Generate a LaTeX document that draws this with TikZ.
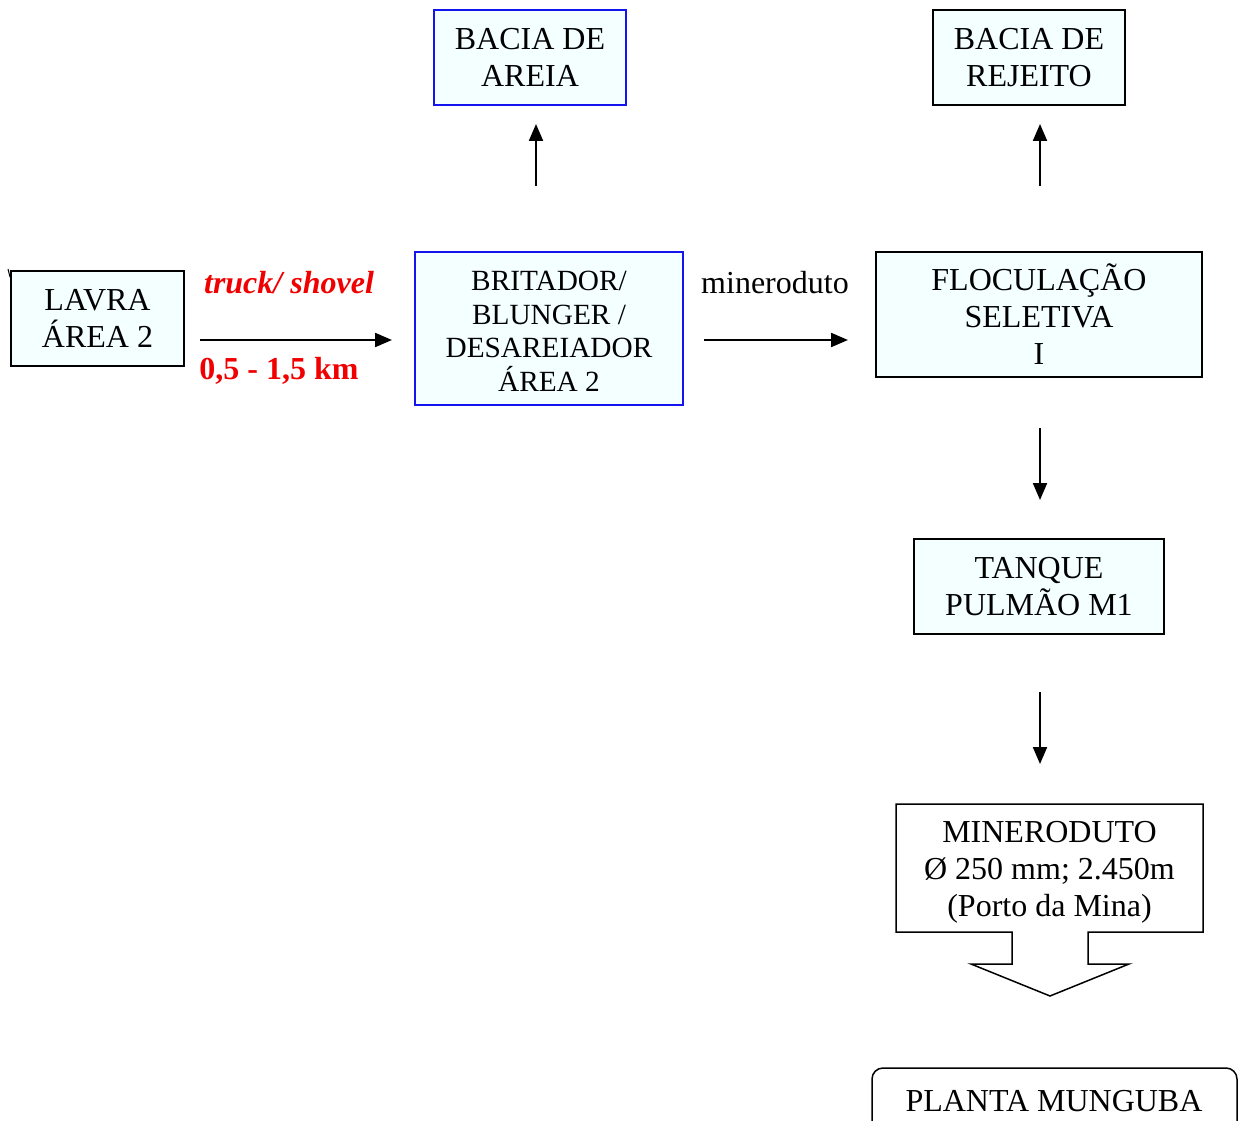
\documentclass[tikz,border=0pt]{standalone}
\usepackage{fontspec}
\setmainfont{Liberation Serif}
\usetikzlibrary{arrows.meta}
\definecolor{boxfill}{RGB}{244,255,255}
\definecolor{boxblue}{RGB}{20,20,240}
\definecolor{labred}{RGB}{240,0,0}
\begin{document}
\begin{tikzpicture}[x=1pt,y=-1pt,
  proc/.style={draw=black,line width=1.5pt,fill=boxfill,align=center,inner sep=0pt,
    font=\fontsize{32}{37}\selectfont},
  procblue/.style={proc,draw=boxblue},
  flow/.style={line width=2.2pt,-{Triangle[length=17pt,width=14pt]}},
  txt/.style={font=\fontsize{32}{37}\selectfont,inner sep=0pt}]
\useasboundingbox (0,0) rectangle (1240,1121);

% process boxes
\node[proc,minimum width=173pt,minimum height=95pt] (lavra) at (97.5,318.5) {LAVRA\\ÁREA 2};
\node[procblue,minimum width=192pt,minimum height=95pt] (areia) at (530,57.5) {BACIA DE\\AREIA};
\node[proc,minimum width=192pt,minimum height=95pt] (rejeito) at (1029,57.5) {BACIA DE\\REJEITO};
\node[procblue,minimum width=268pt,minimum height=153pt] (brit) at (549,328.5) {};
\node[txt,align=center,font=\fontsize{29.3}{33.5}\selectfont] (brittext) at (549,331.5)
  {BRITADOR/\\BLUNGER /\\DESAREIADOR\\ÁREA 2};
\node[proc,minimum width=326pt,minimum height=125pt] (floc) at (1039,314.5)
  {FLOCULAÇÃO\\SELETIVA\\I};
\node[proc,minimum width=250pt,minimum height=95pt] (tanque) at (1039,586.5)
  {TANQUE\\PULMÃO M1};

% small stray stroke beside the first box
\draw[line width=1pt] (8,269) -- (10,277);

% pipeline callout with downward block arrow
\draw[line width=1.5pt,fill=white,line join=miter]
  (896,804) -- (1203,804) -- (1203,932) -- (1088,932) -- (1088,964) -- (1129,964)
  -- (1050,996) -- (971,964) -- (1012,964) -- (1012,932) -- (896,932) -- cycle;
\node[txt,align=center] (mineroduto) at (1049.5,872)
  {MINERODUTO\\Ø 250 mm; 2.450m\\(Porto da Mina)};

% final plant (runs past the lower edge)
\draw[line width=1.5pt,rounded corners=11pt] (872,1140) |- (1237,1068) -- (1237,1140);
\node[txt] (planta) at (1054,1101) {PLANTA MUNGUBA};

% arrow end points
\coordinate (a1s) at (200,340); \coordinate (a1e) at (392,340);
\coordinate (a2s) at (704,340); \coordinate (a2e) at (848,340);
\coordinate (a3s) at (536,186); \coordinate (a3e) at (536,124);
\coordinate (a4s) at (1040,186); \coordinate (a4e) at (1040,124);
\coordinate (a5s) at (1040,428); \coordinate (a5e) at (1040,500);
\coordinate (a6s) at (1040,692); \coordinate (a6e) at (1040,764);

\draw[flow] (a1s) -- (a1e);
\draw[flow] (a2s) -- (a2e);
\draw[flow] (a3s) -- (a3e);
\draw[flow] (a4s) -- (a4e);
\draw[flow] (a5s) -- (a5e);
\draw[flow] (a6s) -- (a6e);

% connector labels
\node[txt,text=labred,font=\fontsize{32}{37}\selectfont\bfseries\itshape] (truck) at (289,283) {truck/ shovel};
\node[txt,text=labred,font=\fontsize{32}{37}\selectfont\bfseries] (dist) at (279,371) {0,5 - 1,5 km};
\node[txt] (mlabel) at (775,283) {mineroduto};
\end{tikzpicture}
\end{document}
